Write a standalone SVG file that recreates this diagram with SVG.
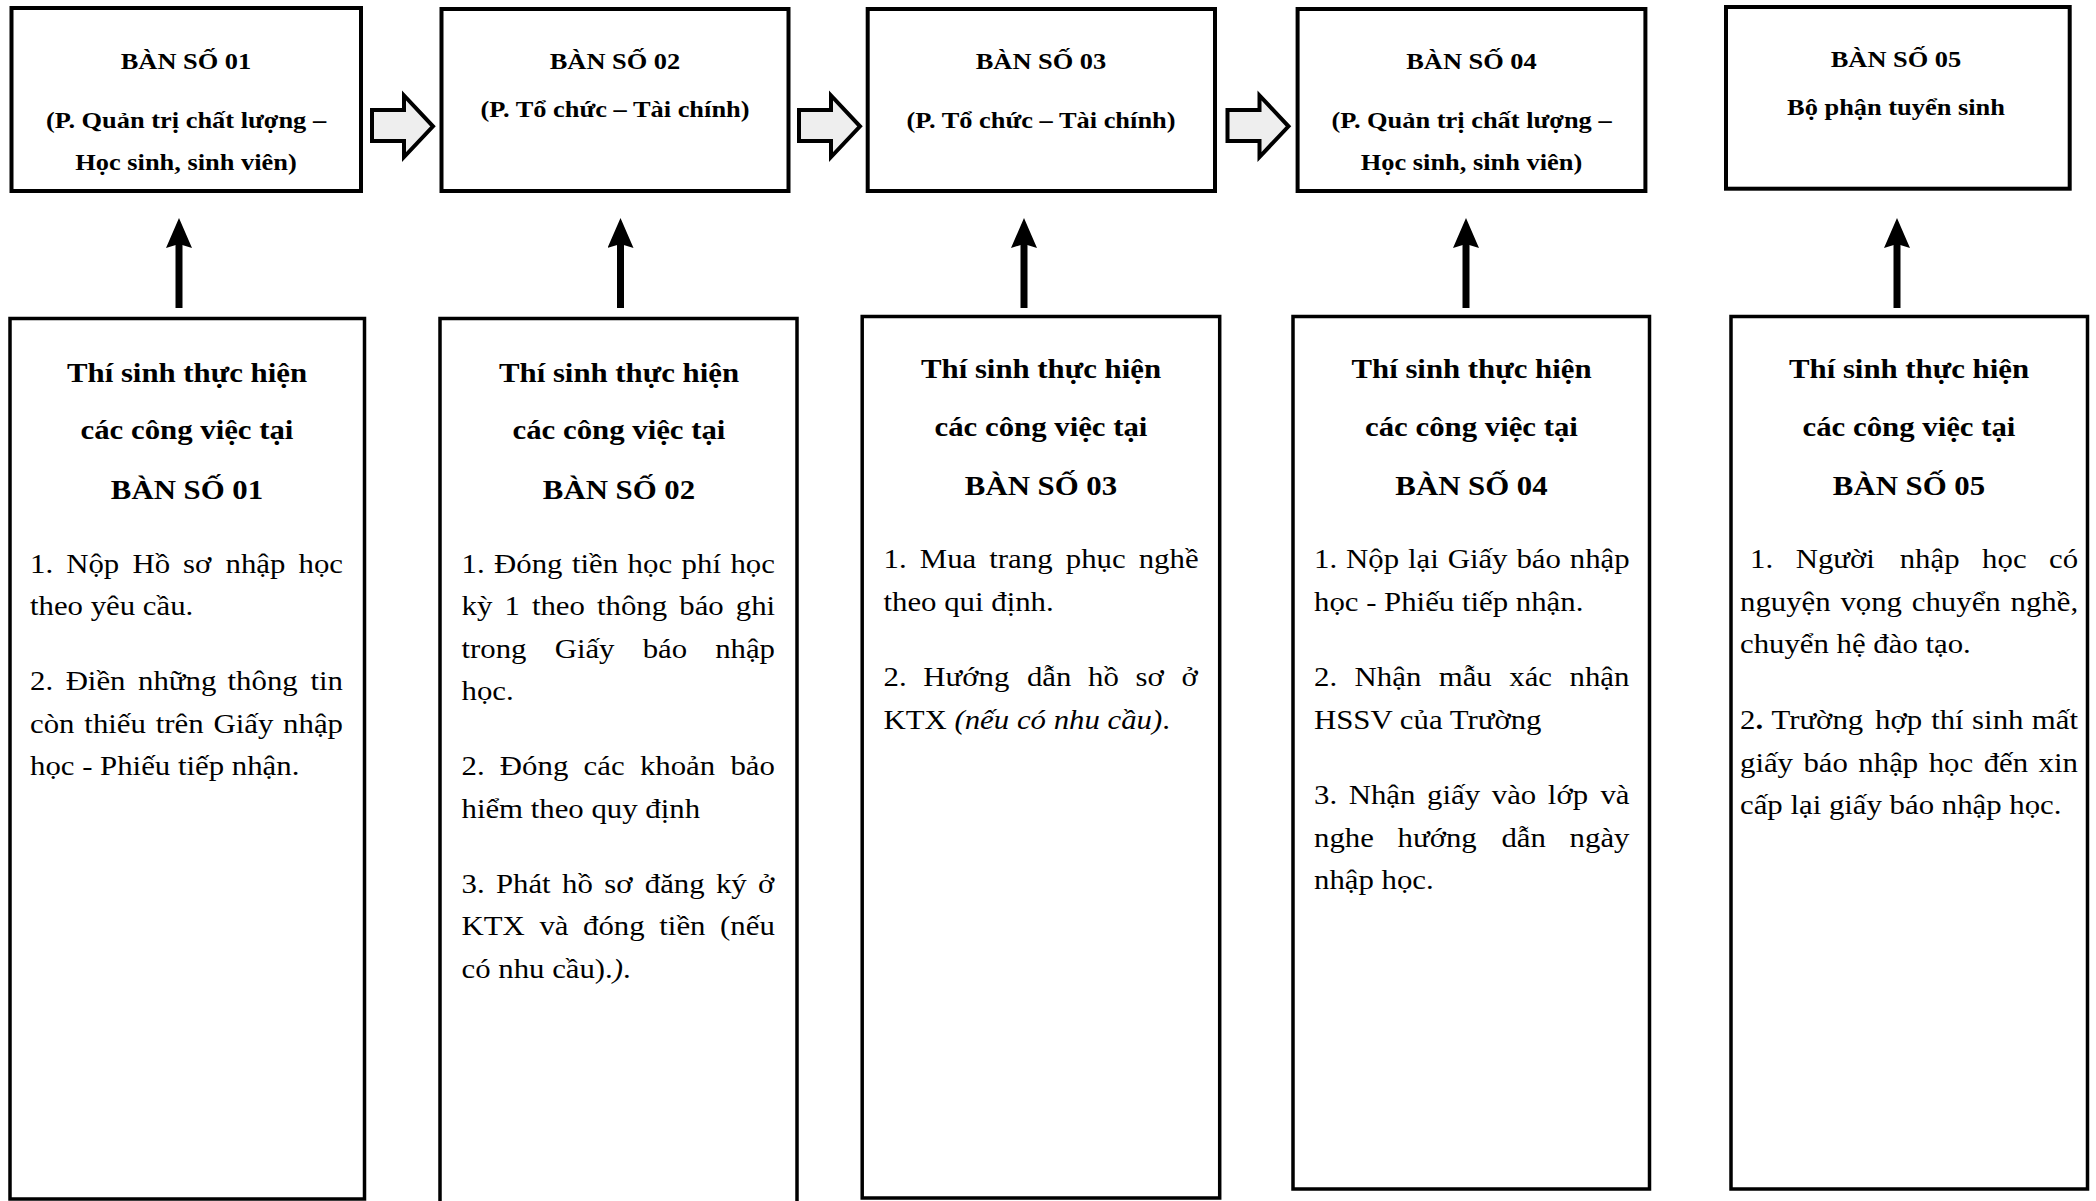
<svg xmlns="http://www.w3.org/2000/svg" width="2096" height="1201" viewBox="0 0 2096 1201">
<style>
.bg{fill:#ffffff}
.box{fill:#ffffff;stroke:#000000;stroke-width:4}
.card{fill:#ffffff;stroke:#000000;stroke-width:3.5}
.t{font-family:"Liberation Serif","Times New Roman",serif;font-weight:bold;font-size:24px;text-anchor:middle;fill:#000}
.h{font-family:"Liberation Serif","Times New Roman",serif;font-weight:bold;font-size:28px;text-anchor:middle;fill:#000}
.p{font-family:"Liberation Serif","Times New Roman",serif;font-size:28px;fill:#000}
.blk{fill:#eeeeee;stroke:#000000;stroke-width:4;stroke-linejoin:miter}
.up{stroke:#000000;stroke-width:7;fill:none;marker-end:url(#head)}
.i{font-style:italic}
</style>
<defs>
<marker id="head" markerUnits="userSpaceOnUse" markerWidth="30" markerHeight="26" viewBox="0 0 30 26" refX="4" refY="13" orient="auto">
<path d="M0,0 L30,13 L0,26 L4,13 Z" fill="#000000"/>
</marker>
<path id="blockArrow" d="M0,110 L32,110 L32,95.5 L61,126.3 L32,157 L32,141 L0,141 Z"/>
</defs>
<rect class="bg" x="0" y="0" width="2096" height="1201"/>

<g id="ban01">
<rect class="box" x="11.5" y="8" width="349.5" height="183"/>
<text class="t" transform="matrix(1.1 0 0 1 186 69)">BÀN SỐ 01</text>
<text class="t" transform="matrix(1.1 0 0 1 186 128)">(P. Quản trị chất lượng –</text>
<text class="t" transform="matrix(1.1 0 0 1 186 170)">Học sinh, sinh viên)</text>
</g>
<g id="ban02">
<rect class="box" x="441.5" y="9" width="347" height="182"/>
<text class="t" transform="matrix(1.1 0 0 1 615 69)">BÀN SỐ 02</text>
<text class="t" transform="matrix(1.1 0 0 1 615 116.5)">(P. Tổ chức – Tài chính)</text>
</g>
<g id="ban03">
<rect class="box" x="867.7" y="9" width="347.3" height="182"/>
<text class="t" transform="matrix(1.1 0 0 1 1041 69)">BÀN SỐ 03</text>
<text class="t" transform="matrix(1.1 0 0 1 1041 128)">(P. Tổ chức – Tài chính)</text>
</g>
<g id="ban04">
<rect class="box" x="1297.6" y="9" width="347.8" height="182"/>
<text class="t" transform="matrix(1.1 0 0 1 1471.5 69)">BÀN SỐ 04</text>
<text class="t" transform="matrix(1.1 0 0 1 1471.5 127.5)">(P. Quản trị chất lượng –</text>
<text class="t" transform="matrix(1.1 0 0 1 1471.5 170)">Học sinh, sinh viên)</text>
</g>
<g id="ban05">
<rect class="box" x="1726" y="7" width="343.7" height="181.7"/>
<text class="t" transform="matrix(1.1 0 0 1 1896 66.5)">BÀN SỐ 05</text>
<text class="t" transform="matrix(1.1 0 0 1 1896 115)">Bộ phận tuyển sinh</text>
</g>

<g id="step01">
<rect class="card" x="10" y="318.5" width="354.5" height="880.5"/>
<text class="h" transform="matrix(1.1 0 0 1 187 382)">Thí sinh thực hiện</text>
<text class="h" transform="matrix(1.1 0 0 1 187 439)">các công việc tại</text>
<text class="h" transform="matrix(1.1 0 0 1 187 498.5)">BÀN SỐ 01</text>
<g transform="matrix(1.1 0 0 1 30 0)">
<text class="p" y="573"><tspan x="0">1.</tspan><tspan x="32.9">Nộp</tspan><tspan x="93.1">Hồ</tspan><tspan x="139.2">sơ</tspan><tspan x="177.8">nhập</tspan><tspan x="244.1">học</tspan></text>
<text class="p" x="0" y="615.5">theo yêu cầu.</text>
<text class="p" y="690.5"><tspan x="0">2.</tspan><tspan x="32.4">Điền</tspan><tspan x="98.2">những</tspan><tspan x="179.6">thông</tspan><tspan x="254.9">tin</tspan></text>
<text class="p" y="733"><tspan x="0">còn</tspan><tspan x="49.4">thiếu</tspan><tspan x="114.3">trên</tspan><tspan x="166.8">Giấy</tspan><tspan x="230.1">nhập</tspan></text>
<text class="p" x="0" y="775.5">học - Phiếu tiếp nhận.</text>
</g>
</g>

<g id="step02">
<rect class="card" x="440" y="318.5" width="357" height="900"/>
<text class="h" transform="matrix(1.1 0 0 1 619 382)">Thí sinh thực hiện</text>
<text class="h" transform="matrix(1.1 0 0 1 619 439)">các công việc tại</text>
<text class="h" transform="matrix(1.1 0 0 1 619 498.5)">BÀN SỐ 02</text>
<g transform="matrix(1.1 0 0 1 461.5 0)">
<text class="p" y="573"><tspan x="0">1.</tspan><tspan x="29.6">Đóng</tspan><tspan x="100.4">tiền</tspan><tspan x="151">học</tspan><tspan x="200.1">phí</tspan><tspan x="244.5">học</tspan></text>
<text class="p" y="615.5"><tspan x="0">kỳ</tspan><tspan x="39">1</tspan><tspan x="64">theo</tspan><tspan x="123.2">thông</tspan><tspan x="198">báo</tspan><tspan x="249.4">ghi</tspan></text>
<text class="p" y="658"><tspan x="0">trong</tspan><tspan x="84.7">Giấy</tspan><tspan x="164.7">báo</tspan><tspan x="230.6">nhập</tspan></text>
<text class="p" x="0" y="700.5">học.</text>
<text class="p" y="775.5"><tspan x="0">2.</tspan><tspan x="34.9">Đóng</tspan><tspan x="111">các</tspan><tspan x="162.2">khoản</tspan><tspan x="244.5">bảo</tspan></text>
<text class="p" x="0" y="818">hiểm theo quy định</text>
<text class="p" y="893"><tspan x="0">3.</tspan><tspan x="31.3">Phát</tspan><tspan x="91.4">hồ</tspan><tspan x="129.7">sơ</tspan><tspan x="166.6">đăng</tspan><tspan x="231.3">ký</tspan><tspan x="269.6">ở</tspan></text>
<text class="p" y="935.5"><tspan x="0">KTX</tspan><tspan x="70.8">và</tspan><tspan x="110.5">đóng</tspan><tspan x="179.8">tiền</tspan><tspan x="235.1">(nếu</tspan></text>
<text class="p" x="0" y="978">có nhu cầu).<tspan class="i">)</tspan>.</text>
</g>
</g>

<g id="step03">
<rect class="card" x="862.2" y="316.5" width="357.5" height="881.5"/>
<text class="h" transform="matrix(1.1 0 0 1 1041 378)">Thí sinh thực hiện</text>
<text class="h" transform="matrix(1.1 0 0 1 1041 436)">các công việc tại</text>
<text class="h" transform="matrix(1.1 0 0 1 1041 494.5)">BÀN SỐ 03</text>
<g transform="matrix(1.1 0 0 1 883.5 0)">
<text class="p" y="568.5"><tspan x="0">1.</tspan><tspan x="33">Mua</tspan><tspan x="96.2">trang</tspan><tspan x="165.7">phục</tspan><tspan x="232">nghề</tspan></text>
<text class="p" x="0" y="611">theo qui định.</text>
<text class="p" y="686.5"><tspan x="0">2.</tspan><tspan x="36.2">Hướng</tspan><tspan x="130.4">dẫn</tspan><tspan x="186">hồ</tspan><tspan x="229.2">sơ</tspan><tspan x="271">ở</tspan></text>
<text class="p" x="0" y="729">KTX <tspan class="i">(nếu có nhu cầu)</tspan>.</text>
</g>
</g>

<g id="step04">
<rect class="card" x="1293" y="316.5" width="356.5" height="872.5"/>
<text class="h" transform="matrix(1.1 0 0 1 1471.5 378)">Thí sinh thực hiện</text>
<text class="h" transform="matrix(1.1 0 0 1 1471.5 436)">các công việc tại</text>
<text class="h" transform="matrix(1.1 0 0 1 1471.5 494.5)">BÀN SỐ 04</text>
<g transform="matrix(1.1 0 0 1 1314 0)">
<text class="p" y="568.5"><tspan x="0">1.</tspan><tspan x="29.1">Nộp</tspan><tspan x="85.4">lại</tspan><tspan x="121.5">Giấy</tspan><tspan x="184">báo</tspan><tspan x="232.5">nhập</tspan></text>
<text class="p" x="0" y="611">học - Phiếu tiếp nhận.</text>
<text class="p" y="686.5"><tspan x="0">2.</tspan><tspan x="36.9">Nhận</tspan><tspan x="113.4">mẫu</tspan><tspan x="177.5">xác</tspan><tspan x="232.3">nhận</tspan></text>
<text class="p" x="0" y="729">HSSV của Trường</text>
<text class="p" y="804.5"><tspan x="0">3.</tspan><tspan x="31.6">Nhận</tspan><tspan x="102.8">giấy</tspan><tspan x="161.6">vào</tspan><tspan x="212.6">lớp</tspan><tspan x="260.4">và</tspan></text>
<text class="p" y="847"><tspan x="0">nghe</tspan><tspan x="76">hướng</tspan><tspan x="170.4">dẫn</tspan><tspan x="232.4">ngày</tspan></text>
<text class="p" x="0" y="889.5">nhập học.</text>
</g>
</g>

<g id="step05">
<rect class="card" x="1731" y="316.5" width="356.5" height="872.5"/>
<text class="h" transform="matrix(1.1 0 0 1 1909 378)">Thí sinh thực hiện</text>
<text class="h" transform="matrix(1.1 0 0 1 1909 436)">các công việc tại</text>
<text class="h" transform="matrix(1.1 0 0 1 1909 494.5)">BÀN SỐ 05</text>
<g transform="matrix(1.1 0 0 1 1740 0)">
<text class="p" y="568.5"><tspan x="9.1">1.</tspan><tspan x="50.6">Người</tspan><tspan x="145.2">nhập</tspan><tspan x="220.1">học</tspan><tspan x="281">có</tspan></text>
<text class="p" y="611"><tspan x="0">nguyện</tspan><tspan x="91.3">vọng</tspan><tspan x="156.2">chuyển</tspan><tspan x="246">nghề,</tspan></text>
<text class="p" x="0" y="653.5">chuyển hệ đào tạo.</text>
<text class="p" y="729.5"><tspan x="0">2<tspan font-weight="bold">.</tspan></tspan><tspan x="28.6">Trường</tspan><tspan x="122.8">hợp</tspan><tspan x="173.8">thí</tspan><tspan x="211">sinh</tspan><tspan x="265.3">mất</tspan></text>
<text class="p" y="772"><tspan x="0">giấy</tspan><tspan x="57.7">báo</tspan><tspan x="107.6">nhập</tspan><tspan x="171.5">học</tspan><tspan x="221.5">đến</tspan><tspan x="271.4">xin</tspan></text>
<text class="p" x="0" y="814.5">cấp lại giấy báo nhập học.</text>
</g>
</g>

<g id="connectors">
<use href="#blockArrow" class="blk" x="372" y="0"/>
<use href="#blockArrow" class="blk" x="799" y="0"/>
<use href="#blockArrow" class="blk" x="1227.5" y="0"/>
<line class="up" x1="179" y1="308" x2="179" y2="244"/>
<line class="up" x1="620.5" y1="308" x2="620.5" y2="244"/>
<line class="up" x1="1024" y1="308" x2="1024" y2="244"/>
<line class="up" x1="1466" y1="308" x2="1466" y2="244"/>
<line class="up" x1="1897" y1="308" x2="1897" y2="244"/>
</g>
</svg>
